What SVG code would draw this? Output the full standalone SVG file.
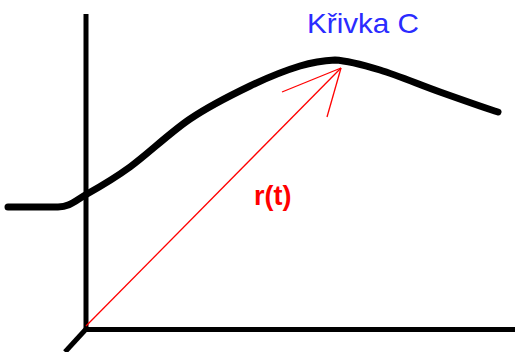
<svg xmlns="http://www.w3.org/2000/svg" width="515" height="352" viewBox="0 0 515 352">
<style>
.axis{stroke:#000;stroke-width:5;fill:none}
.curve{stroke:#000;stroke-width:7;fill:none;stroke-linejoin:round;stroke-linecap:round}
.vec{stroke:#ff0000;stroke-width:1.3;fill:none}
</style>
<rect width="515" height="352" fill="#fff"/>
<g id="axes">
<line class="axis" x1="86" y1="14" x2="86" y2="330"/>
<line class="axis" x1="84" y1="329.5" x2="515" y2="329.5"/>
<line class="axis" x1="87" y1="328" x2="65" y2="352"/>
</g>
<g id="curve-C">
<path class="curve" d="M8,207 L58,207 C70,207 75,200.7 87,194 C99,187.3 112.8,179.5 130,167 C147.2,154.5 170,132.5 190,119 C210,105.5 231.7,94.8 250,86 C268.3,77.2 285.8,70.3 300,66 C314.2,61.7 321.7,60.7 335,60 C348.3,60.7 362.5,64.7 380,70 C397.5,75.3 420.3,85 440,92 C459.7,99 488,109 498,112"/>
<text x="307" y="33" font-family="Liberation Sans, Arial, sans-serif" font-size="28" fill="#2b2bff" textLength="112" lengthAdjust="spacingAndGlyphs">Křivka C</text>
</g>
<g id="connectors">
<line class="vec" x1="86" y1="326" x2="341" y2="68"/>
<line class="vec" x1="341" y1="68" x2="282" y2="92"/>
<line class="vec" x1="341" y1="68" x2="327" y2="117"/>
</g>
<g id="label-r">
<text x="254" y="205" font-family="Liberation Sans, Arial, sans-serif" font-size="27" font-weight="bold" fill="#ff0000">r(t)</text>
</g>
</svg>
